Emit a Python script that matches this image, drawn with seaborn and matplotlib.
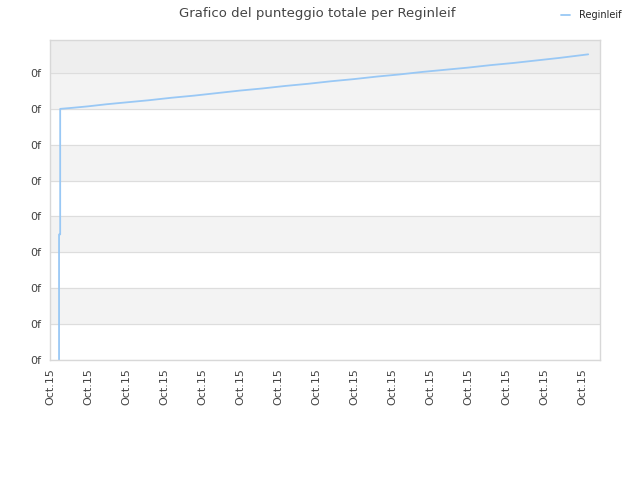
import numpy as np
import pandas as pd
import matplotlib.pyplot as plt
import seaborn as sns

# dati (asse x in giorni, asse y in unita' della griglia)
giorni = [0.24, 0.24, 0.27, 0.27, 0.6, 1.0, 1.5, 2.0, 2.6, 3.2, 3.8, 4.4, 5.0,
          5.6, 6.2, 6.8, 7.4, 8.0, 8.6, 9.2, 9.8, 10.4, 11.0, 11.6, 12.2,
          12.8, 13.4, 14.16]
punteggio = [0.0, 3.5, 3.5, 7.0, 7.03, 7.07, 7.13, 7.18, 7.24, 7.31, 7.37, 7.44,
             7.51, 7.57, 7.64, 7.7, 7.77, 7.83, 7.9, 7.96, 8.03, 8.09, 8.15,
             8.22, 8.28, 8.35, 8.42, 8.52]
tick_x = list(range(15))
etichette_x = ["Oct.15"] * 15
tick_y = list(range(9))
etichette_y = ["0f"] * 9

df = pd.DataFrame({"giorno": giorni, "punteggio": punteggio})

sns.set_style("white")
plt.rcParams['font.family'] = ['DejaVu Sans']

fig = plt.figure(figsize=(6.4, 4.8), dpi=100)
ax = fig.add_axes([0.078, 0.25, 0.8595, 0.6667])

# bande alternate dello sfondo
for i in range(8):
    if i % 2 == 1:
        ax.axhspan(i, i + 1, color="#f3f3f3", zorder=0)
ax.axhspan(8, 8.92, color="#eeeeee", zorder=0)

sns.lineplot(data=df, x="giorno", y="punteggio", ax=ax, color="#99c8f5",
             linewidth=1.3, label="Reginleif", estimator=None, sort=False)

ax.set_xlim(0, 14.47)
ax.set_ylim(0, 8.92)
ax.set_xticks(tick_x)
ax.set_xticklabels(etichette_x, rotation=90, fontsize=8, color="#444444")
ax.set_yticks(tick_y)
ax.set_yticklabels(etichette_y, fontsize=8, color="#444444")
ax.grid(axis="y", color="#dddddd", linewidth=0.8)
ax.set_axisbelow(True)
ax.set_xlabel("")
ax.set_ylabel("")
ax.tick_params(length=0, pad=6)
for s in ax.spines.values():
    s.set_color("#d8d8d8")
    s.set_linewidth(1)

ax.legend(loc="upper right", bbox_to_anchor=(1.055, 1.12), frameon=False,
          fontsize=7, handlelength=1.0, handletextpad=0.9)

fig.suptitle("Grafico del punteggio totale per Reginleif", x=0.495, y=0.985,
             fontsize=9.5, color="#444444")

fig.savefig("out.png", dpi=100)
